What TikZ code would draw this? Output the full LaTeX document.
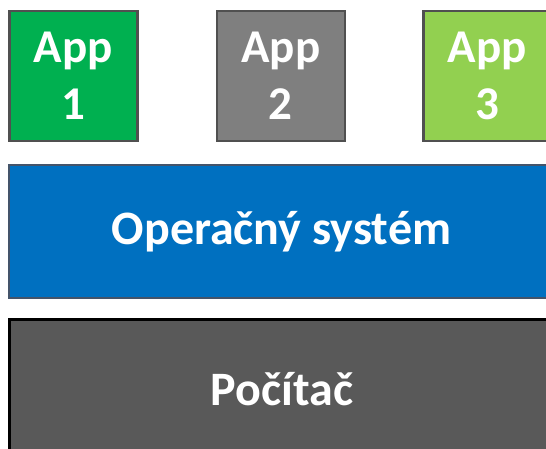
\documentclass[tikz,border=0pt]{standalone}
\usepackage{fontspec}
\setmainfont{Carlito}
\definecolor{appgreen}{HTML}{00B050}
\definecolor{appgray}{HTML}{7F7F7F}
\definecolor{applime}{HTML}{92D050}
\definecolor{osblue}{HTML}{0070C0}
\definecolor{osline}{HTML}{44546A}
\definecolor{pcgray}{HTML}{595959}
\definecolor{appline}{HTML}{505050}
\tikzset{
  appbox/.style={draw=appline, line width=2.5pt, minimum width=128pt, minimum height=130pt, inner sep=0pt, anchor=north west,
    text=white, font=\fontsize{47}{57}\selectfont\bfseries, align=center},
  layerbox/.style={inner sep=0pt, anchor=north west, text=white, font=\fontsize{48}{56}\selectfont\bfseries}
}
\begin{document}
\begin{tikzpicture}[x=1pt,y=1pt]
\useasboundingbox (0,0) rectangle (546,449);
\clip (0,0) rectangle (546,449);
\fill[white] (0,0) rectangle (546,449);
\node[appbox, fill=appgreen] (app1) at (8,439) {App\\1};
\node[appbox, fill=appgray] (app2) at (215.5,439) {App\\2};
\node[appbox, fill=applime] (app3) at (422,439) {App\\3};
\node[layerbox, fill=osblue, draw=osline, line width=2pt, minimum width=545pt, minimum height=133pt] (os) at (8,285) {Operačný systém};
\node[layerbox, fill=pcgray, draw=black, line width=3pt, minimum width=545pt, minimum height=140pt] (pc) at (8,131) {Počítač};
\end{tikzpicture}
\end{document}
